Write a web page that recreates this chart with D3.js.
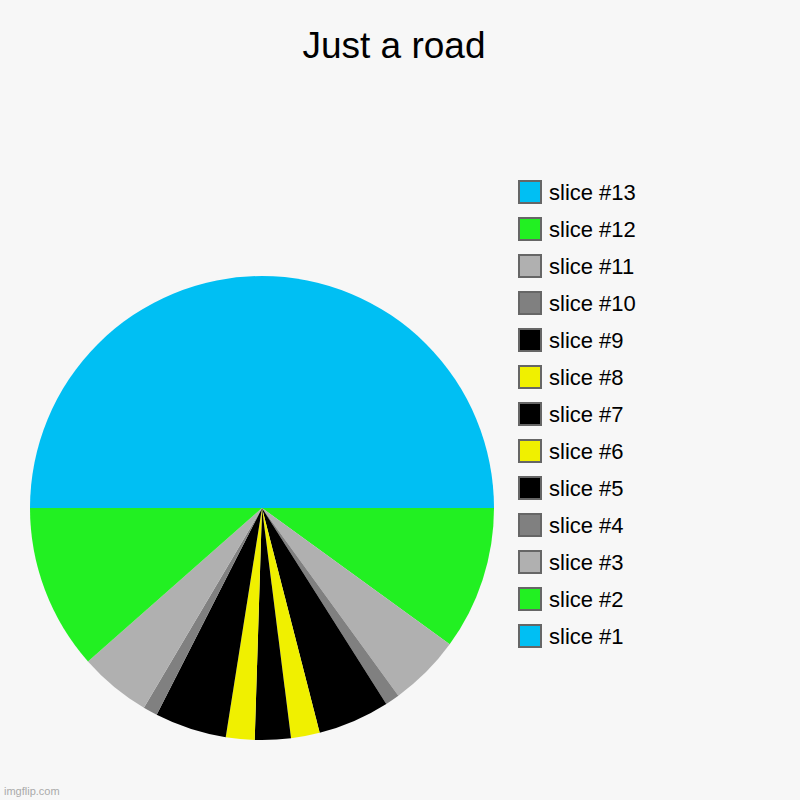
<!DOCTYPE html>
<html>
<head>
<meta charset="utf-8">
<script src="https://cdn.jsdelivr.net/npm/d3@7"></script>
<style>
  html, body { margin: 0; padding: 0; background: #f7f7f7; }
  svg { display: block; font-family: "Liberation Sans", Arial, sans-serif; }
</style>
</head>
<body>
<svg id="chart"></svg>
<script>
const W = 800, H = 800;

// data (percent of the pie)
const labels = ["slice #1","slice #2","slice #3","slice #4","slice #5","slice #6","slice #7",
                "slice #8","slice #9","slice #10","slice #11","slice #12","slice #13"];
const values = [25, 10, 5, 1, 5, 2, 2.5, 2, 5, 1, 5, 11.5, 25];
const colors = ["#00bff3","#22f022","#b0b0b0","#808080","#000000","#f0f000","#000000",
                "#f0f000","#000000","#808080","#b0b0b0","#22f022","#00bff3"];

const svg = d3.select("#chart").attr("width", W).attr("height", H);
svg.append("rect").attr("width", W).attr("height", H).attr("fill", "#f7f7f7");

svg.append("text")
  .attr("x", 394).attr("y", 58)
  .attr("text-anchor", "middle")
  .style("font-size", "37px")
  .attr("fill", "#000")
  .text("Just a road");

const cx = 262, cy = 508, R = 232;
const items = labels.map((l, i) => ({label: l, value: values[i], color: colors[i]}));

const pie = d3.pie().sort(null).value(d => d.value);
const arc = d3.arc().innerRadius(0).outerRadius(R);

const g = svg.append("g").attr("transform", `translate(${cx},${cy})`);
g.selectAll("path")
  .data(pie(items))
  .join("path")
    .attr("d", arc)
    .attr("fill", d => d.data.color);

// legend, reversed (#13 on top)
const leg = svg.append("g").attr("transform", "translate(519,181)");
const rows = leg.selectAll("g")
  .data(items.slice().reverse())
  .join("g")
    .attr("transform", (d, i) => `translate(0,${i * 37})`);

rows.append("rect")
  .attr("width", 22).attr("height", 22)
  .attr("fill", d => d.color)
  .attr("stroke", "#666")
  .attr("stroke-width", 2);

rows.append("text")
  .attr("x", 30).attr("y", 11)
  .attr("dy", "0.36em")
  .style("font-size", "22px")
  .attr("fill", "#000")
  .text(d => d.label);

svg.append("text")
  .attr("x", 4).attr("y", 795)
  .style("font-size", "11px")
  .attr("fill", "#aaa")
  .text("imgflip.com");
</script>
</body>
</html>
